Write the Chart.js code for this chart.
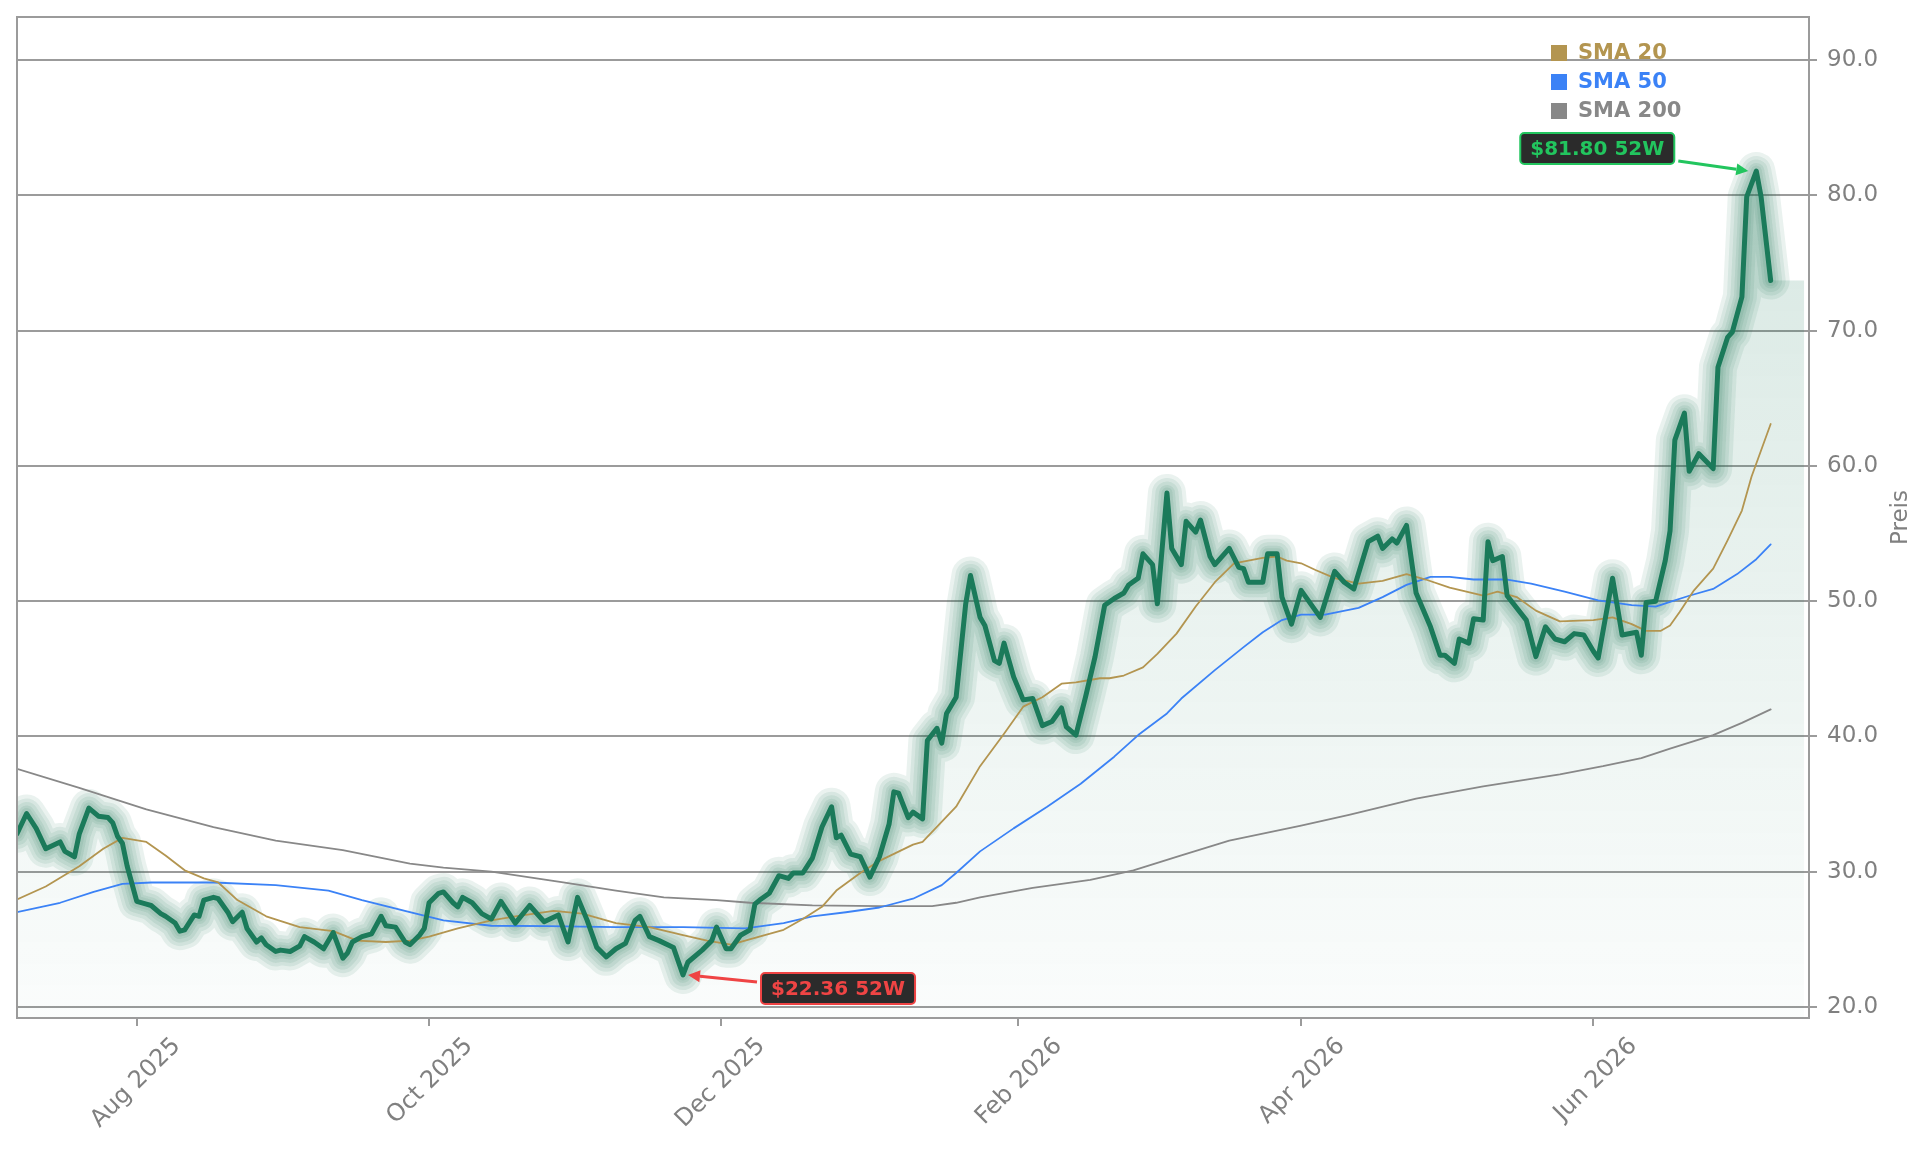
<!DOCTYPE html>
<html>
<head>
<meta charset="utf-8">
<script src="https://cdn.jsdelivr.net/npm/chart.js@4.4.1/dist/chart.umd.min.js"></script>
<style>
  html, body { margin: 0; padding: 0; background: #fff; }
  canvas { display: block; }
</style>
</head>
<body>
<canvas id="myChart" width="1929" height="1151"></canvas>
<script>
// all x values are days counted from 2025-08-01
var priceDays = [
  -25, -23, -21, -19, -16, -15, -13, -12, -10, -8,
  -6, -5, -4, -3, -2, 0, 2, 3, 5, 6,
  8, 9, 10, 12, 13, 14, 16, 17, 19, 20,
  22, 23, 25, 26, 27, 29, 30, 32, 34, 35,
  37, 39, 41, 43, 44, 45, 47, 49, 51, 52,
  54, 56, 57, 59, 60, 61, 63, 64, 66, 67,
  68, 70, 72, 74, 76, 79, 82, 85, 88, 90,
  92, 94, 96, 98, 100, 102, 104, 105, 107, 109,
  112, 114, 115, 118, 120, 121, 123, 124, 126, 128,
  129, 130, 132, 134, 136, 137, 139, 141, 143, 145,
  146, 147, 149, 151, 153, 155, 157, 158, 159, 161,
  162, 164, 165, 167, 168, 169, 171, 173, 174, 176,
  177, 179, 180, 181, 183, 185, 187, 189, 191, 193,
  194, 196, 198, 200, 202, 204, 206, 207, 209, 210,
  212, 213, 215, 216, 218, 219, 221, 222, 224, 225,
  228, 230, 231, 232, 235, 236, 238, 239, 241, 243,
  247, 250, 252, 254, 257, 259, 260, 262, 263, 265,
  267, 270, 272, 273, 275, 276, 278, 279, 281, 282,
  283, 285, 286, 290, 292, 294, 296, 298, 300, 302,
  304, 305, 308, 310, 313, 314, 315, 317, 319, 320,
  321, 323, 324, 326, 329, 330, 332, 333, 335, 336,
  338, 339, 341
];
var priceValues = [
  32.8, 34.3, 33.2, 31.7, 32.2, 31.5, 31.1, 32.8, 34.7, 34.1,
  34.0, 33.6, 32.6, 32.1, 30.4, 27.8, 27.6, 27.5, 26.9, 26.7,
  26.2, 25.6, 25.7, 26.8, 26.7, 27.9, 28.1, 28.0, 27.0, 26.3,
  27.0, 25.8, 24.8, 25.1, 24.6, 24.1, 24.2, 24.1, 24.5, 25.2,
  24.8, 24.3, 25.5, 23.6, 24.0, 24.8, 25.2, 25.4, 26.7, 26.0,
  25.9, 24.8, 24.6, 25.3, 25.8, 27.7, 28.4, 28.5, 27.7, 27.4,
  28.1, 27.7, 26.9, 26.5, 27.8, 26.2, 27.5, 26.3, 26.8, 24.8,
  28.1, 26.4, 24.4, 23.7, 24.3, 24.7, 26.4, 26.7, 25.2, 24.9,
  24.4, 22.36, 23.3, 24.2, 24.9, 25.9, 24.3, 24.3, 25.3, 25.7,
  27.6, 27.9, 28.4, 29.7, 29.5, 29.9, 29.9, 31.0, 33.3, 34.8,
  32.5, 32.7, 31.3, 31.1, 29.6, 31.1, 33.5, 35.9, 35.8, 34.0,
  34.4, 33.9, 39.7, 40.6, 39.5, 41.7, 42.9, 49.8, 51.9, 48.8,
  48.2, 45.6, 45.4, 46.9, 44.4, 42.7, 42.8, 40.8, 41.1, 42.1,
  40.7, 40.1, 42.9, 45.9, 49.7, 50.2, 50.6, 51.2, 51.7, 53.5,
  52.7, 49.8, 58.0, 53.9, 52.7, 55.9, 55.1, 56.0, 53.3, 52.7,
  53.9, 52.5, 52.4, 51.4, 51.4, 53.5, 53.5, 50.3, 48.3, 50.8,
  48.8, 52.2, 51.4, 50.9, 54.4, 54.8, 53.9, 54.6, 54.3, 55.6,
  50.6, 48.1, 46.0, 46.0, 45.4, 47.2, 46.9, 48.7, 48.6, 54.4,
  53.0, 53.3, 50.4, 48.6, 45.9, 48.1, 47.2, 47.0, 47.6, 47.5,
  46.3, 45.8, 51.7, 47.5, 47.7, 46.0, 49.9, 50.0, 53.0, 55.2,
  61.9, 63.9, 59.6, 60.9, 59.8, 67.3, 69.5, 69.9, 72.5, 79.9,
  81.8, 79.9, 73.7
];
var shadeEndDay = 348;

var sma20Days = [
  -25, -19, -12, -7, -3, 2, 6, 10, 14, 17,
  21, 27, 34, 41, 46, 52, 57, 61, 67, 74,
  79, 87, 93, 100, 107, 114, 119, 124, 129, 135,
  139, 143, 146, 151, 155, 162, 164, 171, 176, 181,
  185, 189, 193, 196, 201, 203, 206, 210, 213, 217,
  221, 225, 229, 232, 235, 238, 240, 243, 246, 250,
  255, 260, 265, 269, 274, 281, 284, 288, 292, 297,
  304, 308, 312, 315, 318, 320, 322, 325, 329, 332,
  335, 337, 341
];
var sma20Values = [
  27.95, 28.9, 30.4, 31.7, 32.5, 32.2, 31.2, 30.1, 29.5, 29.2,
  27.9, 26.7, 25.9, 25.6, 24.9, 24.8, 24.9, 25.2, 25.8, 26.4,
  26.7, 27.1, 26.9, 26.2, 25.9, 25.3, 24.9, 24.6, 25.1, 25.7,
  26.5, 27.4, 28.6, 29.9, 30.8, 32.0, 32.2, 34.8, 37.8, 40.2,
  42.2, 42.9, 43.9, 44.0, 44.3, 44.3, 44.5, 45.1, 46.1, 47.6,
  49.6, 51.4, 52.8, 53.0, 53.2, 53.3, 53.0, 52.8, 52.3, 51.7,
  51.3, 51.5, 52.0, 51.6, 51.0, 50.4, 50.7, 50.3, 49.3, 48.5,
  48.6, 48.8, 48.3, 47.8, 47.8, 48.2, 49.2, 50.8, 52.4, 54.5,
  56.7, 59.2, 63.1
];

var sma50Days = [
  -25, -16, -9, -3, 3, 16, 29, 40, 47, 57,
  64, 74, 86, 100, 114, 127, 135, 141, 148, 155,
  162, 168, 171, 176, 183, 190, 197, 204, 209, 215,
  218, 225, 231, 235, 239, 243, 248, 255, 260, 265,
  270, 274, 279, 286, 291, 298, 305, 312, 317, 320,
  324, 329, 334, 338, 341
];
var sma50Values = [
  27.0, 27.7, 28.5, 29.1, 29.2, 29.2, 29.0, 28.6, 27.9, 27.0,
  26.4, 26.0, 25.97, 25.9, 25.9, 25.8, 26.2, 26.7, 27.0, 27.35,
  28.0, 29.0, 29.9, 31.5, 33.2, 34.8, 36.5, 38.5, 40.1, 41.7,
  42.8, 44.9, 46.6, 47.7, 48.6, 49.0, 49.0, 49.5, 50.3, 51.2,
  51.8, 51.8, 51.6, 51.6, 51.3, 50.7, 50.05, 49.7, 49.6, 49.95,
  50.4, 50.9, 52.0, 53.1, 54.2
];

var sma200Days = [
  -25, -12, 2, 16, 29, 36, 43, 57, 64, 74,
  89, 100, 110, 121, 128, 141, 155, 166, 171, 176,
  187, 199, 208, 218, 228, 239, 243, 253, 267, 281,
  297, 306, 314, 320, 329, 335, 341
];
var sma200Values = [
  37.6, 36.2, 34.6, 33.3, 32.3, 31.95, 31.6, 30.6, 30.3, 30.0,
  29.2, 28.6, 28.1, 27.9, 27.7, 27.5, 27.45, 27.45, 27.7, 28.1,
  28.8, 29.4, 30.1, 31.2, 32.3, 33.1, 33.4, 34.2, 35.4, 36.3,
  37.2, 37.8, 38.4, 39.1, 40.1, 41.0, 42.0
];

var tickDays = [0, 61, 122, 184, 243, 304];
var tickNames = ["Aug 2025", "Oct 2025", "Dec 2025", "Feb 2026", "Apr 2026", "Jun 2026"];
var priceTicks = [20, 30, 40, 50, 60, 70, 80, 90];

var FONT = "'DejaVu Sans', sans-serif";
var GREEN = "#1b7a5a";
var GRID = "#9b9b9b";
var TEXT = "#808080";
var smaColors = { sma20: "#b39550", sma50: "#3b82f6", sma200: "#888888" };

function pts(days, vals) {
    return days.map(function (d, i) { return { x: d, y: vals[i] }; });
}

function lineSet(label, data, color, width, order) {
    return {
        label: label,
        data: data,
        borderColor: color,
        borderWidth: width,
        pointRadius: 0,
        fill: false,
        tension: 0,
        clip: 0,
        borderJoinStyle: "round",
        borderCapStyle: "round",
        order: order
    };
}

var priceData = pts(priceDays, priceValues);
var shadeData = priceData.concat([{ x: shadeEndDay, y: priceValues[priceValues.length - 1] }]);

var datasets = [
    lineSet("Preis", priceData, GREEN, 5, 0),
    lineSet("SMA 20", pts(sma20Days, sma20Values), smaColors.sma20, 1.8, 1),
    lineSet("SMA 50", pts(sma50Days, sma50Values), smaColors.sma50, 1.8, 2),
    lineSet("SMA 200", pts(sma200Days, sma200Values), smaColors.sma200, 1.8, 3)
];

// stacked translucent strokes give the glow around the price line
[38, 30, 23, 16, 11].forEach(function (w, i) {
    datasets.push(lineSet("glow" + i, priceData, "rgba(27,122,90,0.095)", w, 4 + i));
});

var shade = lineSet("shade", shadeData, "rgba(0,0,0,0)", 0, 20);
shade.fill = "start";
shade.backgroundColor = function (c) {
    var area = c.chart.chartArea;
    if (!area) return "rgba(27,122,90,0.08)";
    var g = c.chart.ctx.createLinearGradient(0, area.top, 0, area.bottom);
    g.addColorStop(0, "rgba(27,122,90,0.20)");
    g.addColorStop(1, "rgba(27,122,90,0.02)");
    return g;
};
datasets.push(shade);

var frame = {
    id: "frame",
    afterDatasetsDraw: function (chart) {
        var a = chart.chartArea, ctx = chart.ctx;
        ctx.save();
        ctx.strokeStyle = GRID;
        ctx.lineWidth = 2;
        ctx.strokeRect(a.left, a.top, a.right - a.left, a.bottom - a.top);

        // axis title on the right, reading upwards
        ctx.fillStyle = TEXT;
        ctx.font = "23px " + FONT;
        ctx.textAlign = "center";
        ctx.textBaseline = "middle";
        ctx.translate(1901, (a.top + a.bottom) / 2);
        ctx.rotate(-Math.PI / 2);
        ctx.fillText("Preis", 0, 0);
        ctx.restore();

        // legend
        ctx.save();
        ctx.font = "bold 21px " + FONT;
        ctx.textBaseline = "middle";
        var items = [["SMA 20", smaColors.sma20], ["SMA 50", smaColors.sma50], ["SMA 200", smaColors.sma200]];
        items.forEach(function (it, i) {
            var y = 53 + i * 29;
            ctx.fillStyle = it[1];
            ctx.fillRect(1551, y - 8, 16, 16);
            ctx.fillText(it[0], 1578, y + 1);
        });
        ctx.restore();
    }
};

function callout(ctx, text, color, bx, by, fromX, fromY, toX, toY) {
    ctx.save();
    ctx.font = "bold 20px " + FONT;
    var w = ctx.measureText(text).width + 20;
    var h = 31;
    // arrow
    ctx.strokeStyle = color;
    ctx.fillStyle = color;
    ctx.lineWidth = 3;
    var ang = Math.atan2(toY - fromY, toX - fromX);
    var hx = toX - 12 * Math.cos(ang), hy = toY - 12 * Math.sin(ang);
    ctx.beginPath();
    ctx.moveTo(fromX, fromY);
    ctx.lineTo(hx, hy);
    ctx.stroke();
    ctx.beginPath();
    ctx.moveTo(toX, toY);
    ctx.lineTo(hx + 6 * Math.sin(ang), hy - 6 * Math.cos(ang));
    ctx.lineTo(hx - 6 * Math.sin(ang), hy + 6 * Math.cos(ang));
    ctx.closePath();
    ctx.fill();
    // box
    if (bx === null) bx = fromX - w - 4;
    ctx.beginPath();
    ctx.roundRect(bx, by, w, h, 4);
    ctx.fillStyle = "#2b2b2b";
    ctx.fill();
    ctx.lineWidth = 2;
    ctx.strokeStyle = color;
    ctx.stroke();
    ctx.fillStyle = color;
    ctx.textAlign = "center";
    ctx.textBaseline = "middle";
    ctx.fillText(text, bx + w / 2, by + h / 2 + 1);
    ctx.restore();
}

var extremes = {
    id: "extremes",
    afterDatasetsDraw: function (chart) {
        var xs = chart.scales.x, ys = chart.scales.y, ctx = chart.ctx;
        var hi = priceValues.indexOf(Math.max.apply(null, priceValues));
        var lo = priceValues.indexOf(Math.min.apply(null, priceValues));
        var hx = xs.getPixelForValue(priceDays[hi]), hy = ys.getPixelForValue(priceValues[hi]);
        var lx = xs.getPixelForValue(priceDays[lo]), ly = ys.getPixelForValue(priceValues[lo]);
        callout(ctx, "$" + priceValues[hi].toFixed(2) + " 52W", "#22c55e",
            null, hy - 38, hx - 78, hy - 10, hx - 8, hy);
        callout(ctx, "$" + priceValues[lo].toFixed(2) + " 52W", "#ef4444",
            lx + 78, ly - 2, lx + 74, ly + 7, lx + 5, ly);
    }
};

new Chart("myChart", {
    type: "line",
    data: { datasets: datasets },
    options: {
        responsive: false,
        animation: false,
        events: [],
        layout: { padding: { left: 17, top: 17, right: 0, bottom: 0 } },
        plugins: {
            legend: { display: false },
            tooltip: { enabled: false },
            title: { display: false }
        },
        scales: {
            x: {
                type: "linear",
                min: -25,
                max: 349,
                afterBuildTicks: function (s) {
                    s.ticks = tickDays.map(function (v) { return { value: v }; });
                },
                afterFit: function (s) {
                    s.height = 133;
                    s.paddingLeft = 0;
                    s.paddingRight = 0;
                },
                ticks: {
                    autoSkip: false,
                    minRotation: 45,
                    maxRotation: 45,
                    labelOffset: 40,
                    padding: 6,
                    color: TEXT,
                    font: { family: FONT, size: 24 },
                    callback: function (v) { return tickNames[tickDays.indexOf(v)]; }
                },
                grid: { drawOnChartArea: false, drawTicks: true, tickLength: 8, color: GRID, lineWidth: 2 },
                border: { display: true, color: GRID, width: 2 }
            },
            y: {
                position: "right",
                min: 19.18,
                max: 93.19,
                afterBuildTicks: function (s) {
                    s.ticks = priceTicks.map(function (v) { return { value: v }; });
                },
                afterFit: function (s) {
                    s.width = 120;
                    s.paddingTop = 0;
                    s.paddingBottom = 0;
                },
                ticks: {
                    padding: 10,
                    color: TEXT,
                    font: { family: FONT, size: 23 },
                    callback: function (v) { return v.toFixed(1); }
                },
                grid: { color: GRID, lineWidth: 2, tickLength: 8, drawTicks: true },
                border: { display: true, color: GRID, width: 2 }
            }
        }
    },
    plugins: [frame, extremes]
});
</script>
</body>
</html>
